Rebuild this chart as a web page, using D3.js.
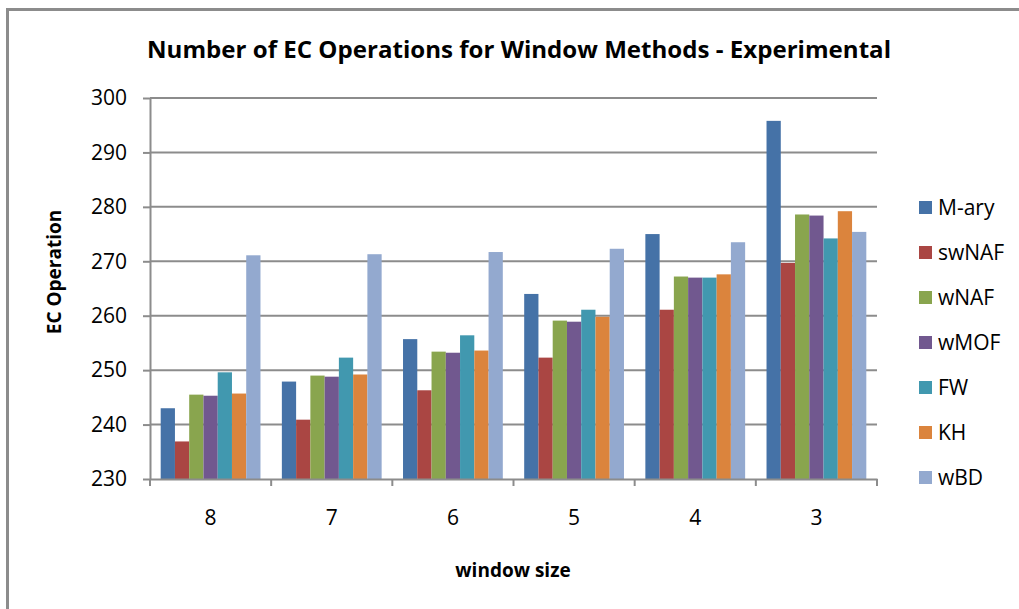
<!DOCTYPE html>
<html>
<head>
<meta charset="utf-8">
<script src="https://cdn.jsdelivr.net/npm/d3@7"></script>
<style>
  html, body { margin: 0; padding: 0; background: #fff; overflow: hidden; }
  svg { display: block; font-family: "Open Sans", "DejaVu Sans", sans-serif; }
</style>
</head>
<body>
<svg id="chart" width="1019" height="609"></svg>
<script>
// Window sizes along the x axis
const categories = ["8", "7", "6", "5", "4", "3"];
// Window methods (legend order)
const seriesNames = ["M-ary", "swNAF", "wNAF", "wMOF", "FW", "KH", "wBD"];
// EC operation counts per method, one value per window size
const mary  = [243.0, 247.9, 255.7, 264.0, 275.0, 295.8];
const swnaf = [236.9, 240.9, 246.3, 252.3, 261.1, 269.7];
const wnaf  = [245.5, 249.0, 253.4, 259.1, 267.2, 278.6];
const wmof  = [245.3, 248.8, 253.2, 258.9, 267.0, 278.4];
const fw    = [249.6, 252.3, 256.4, 261.1, 267.0, 274.2];
const kh    = [245.7, 249.2, 253.6, 259.8, 267.6, 279.2];
const wbd   = [271.1, 271.3, 271.7, 272.3, 273.5, 275.4];
const yTicks = [230, 240, 250, 260, 270, 280, 290, 300];

const seriesValues = [mary, swnaf, wnaf, wmof, fw, kh, wbd];
const colors = ["#4572a7", "#aa4643", "#89a54e", "#71588f", "#4198af", "#db843d", "#93a9cf"];

const svg = d3.select("#chart");
const plot = { left: 150, right: 877, top: 98, bottom: 479 };

// Outer chart frame (top and left edges fall inside the canvas)
svg.append("path")
  .attr("d", "M7.5,609 V9.5 H1019")
  .attr("fill", "none").attr("stroke", "#8c8c8c").attr("stroke-width", 3);

const x0 = d3.scaleBand().domain(categories).range([plot.left, plot.right]).padding(0);
const x1 = d3.scaleBand().domain(seriesNames)
  .range([0, x0.bandwidth()])
  .paddingInner(0).paddingOuter(0.75);
const y = d3.scaleLinear().domain([230, 300]).range([plot.bottom, plot.top]);

// Horizontal gridlines
svg.append("g").selectAll("line")
  .data(yTicks.filter(t => t > 230))
  .join("line")
  .attr("x1", plot.left).attr("x2", plot.right)
  .attr("y1", d => y(d)).attr("y2", d => y(d))
  .attr("stroke", "#8c8c8c").attr("stroke-width", 2);

// Bars
const groups = svg.append("g").selectAll("g")
  .data(categories)
  .join("g")
  .attr("transform", d => `translate(${x0(d)},0)`);

groups.selectAll("rect")
  .data((c, i) => seriesNames.map((s, k) => ({ s, v: seriesValues[k][i], color: colors[k] })))
  .join("rect")
  .attr("x", d => x1(d.s))
  .attr("width", x1.bandwidth())
  .attr("y", d => y(d.v))
  .attr("height", d => y(230) - y(d.v))
  .attr("fill", d => d.color);

// Y axis
const yAxis = svg.append("g")
  .attr("transform", `translate(${plot.left},0)`)
  .call(d3.axisLeft(y).tickValues(yTicks).tickSize(7).tickPadding(16).tickSizeOuter(0));
yAxis.select(".domain").attr("stroke", "#8c8c8c").attr("stroke-width", 2);
yAxis.selectAll(".tick line").attr("stroke", "#8c8c8c").attr("stroke-width", 2);
yAxis.selectAll(".tick text")
  .attr("font-size", 21).attr("fill", "#000")
  .attr("font-family", "'Open Sans', sans-serif");

// X axis
const xAxis = svg.append("g")
  .attr("transform", `translate(0,${plot.bottom})`)
  .call(d3.axisBottom(x0).tickSize(0).tickPadding(31).tickSizeOuter(0));
xAxis.select(".domain").attr("stroke", "#8c8c8c").attr("stroke-width", 2);
xAxis.selectAll(".tick text")
  .attr("font-size", 21).attr("fill", "#000")
  .attr("font-family", "'Open Sans', sans-serif");
// Category boundary tick marks
const bounds = categories.map(c => x0(c)).concat([x0(categories[categories.length - 1]) + x0.bandwidth()]);
svg.append("g").selectAll("line")
  .data(bounds)
  .join("line")
  .attr("x1", d => d).attr("x2", d => d)
  .attr("y1", plot.bottom).attr("y2", plot.bottom + 7)
  .attr("stroke", "#8c8c8c").attr("stroke-width", 2);

// Title
svg.append("text")
  .attr("x", 519).attr("y", 58)
  .attr("text-anchor", "middle")
  .attr("font-size", 23).attr("font-weight", "bold")
  .attr("textLength", 744).attr("lengthAdjust", "spacingAndGlyphs")
  .text("Number of EC Operations for Window Methods - Experimental");

// Axis titles
svg.append("text")
  .attr("x", 513).attr("y", 577)
  .attr("text-anchor", "middle")
  .attr("font-size", 19).attr("font-weight", "bold")
  .text("window size");

svg.append("text")
  .attr("transform", "translate(61,272) rotate(-90)")
  .attr("text-anchor", "middle")
  .attr("font-size", 19).attr("font-weight", "bold")
  .text("EC Operation");

// Legend
const legend = svg.append("g").selectAll("g")
  .data(seriesNames)
  .join("g")
  .attr("transform", (d, i) => `translate(919,${201 + i * 45})`);
legend.append("rect")
  .attr("width", 13).attr("height", 13)
  .attr("fill", (d, i) => colors[i]);
legend.append("text")
  .attr("x", 19).attr("y", 14)
  .attr("font-size", 21)
  .text(d => d);
</script>
</body>
</html>
